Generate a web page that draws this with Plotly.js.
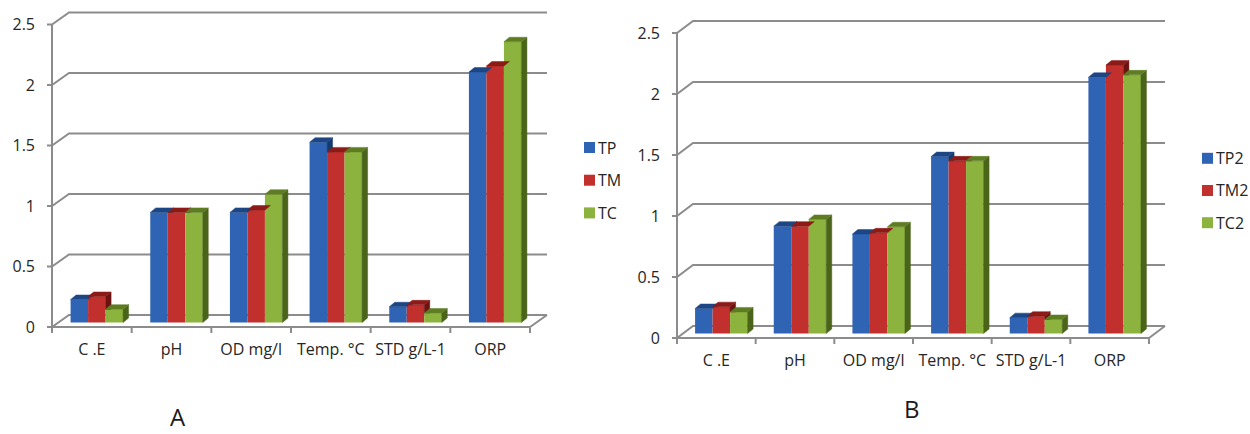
<!DOCTYPE html>
<html>
<head>
<meta charset="utf-8">
<script src="https://cdn.plot.ly/plotly-3.0.1.min.js"></script>
<style>
  html, body { margin: 0; padding: 0; background: #ffffff; }
  #chart { width: 1250px; height: 434px; }
</style>
</head>
<body>
<div id="chart"></div>
<script>
// ---- data ----
const categories = ['C .E', 'pH', 'OD mg/l', 'Temp. °C', 'STD g/L-1', 'ORP'];
const yTicks = [0, 0.5, 1, 1.5, 2, 2.5];

// panel A
const seriesNamesA = ['TP', 'TM', 'TC'];
const tpA = [0.19, 0.91, 0.91, 1.49, 0.13, 2.07];
const tmA = [0.215, 0.91, 0.93, 1.41, 0.146, 2.12];
const tcA = [0.11, 0.91, 1.06, 1.41, 0.078, 2.32];

// panel B
const seriesNamesB = ['TP2', 'TM2', 'TC2'];
const tpB = [0.205, 0.88, 0.815, 1.45, 0.13, 2.10];
const tmB = [0.22, 0.88, 0.825, 1.415, 0.142, 2.20];
const tcB = [0.177, 0.935, 0.875, 1.415, 0.115, 2.12];

const panelLabels = ['A', 'B'];

// ---- styling ----
const W = 1250, H = 434;
const FONT = 'Open Sans, DejaVu Sans, sans-serif';
const TEXT = '#262626';
const GRID = '#8c8c8c';
const palette = [
  { front: '#2f64b5', top: '#1d4685', side: '#173a6c' },
  { front: '#c1302c', top: '#8c1b18', side: '#6a1311' },
  { front: '#8cb33e', top: '#5e7d22', side: '#4a6419' }
];

// pseudo-3D geometry of each panel, in pixels
const geomA = { left: 52, catPx: 79.667, depthX: 17, zeroY: 327, unitPx: 121, depthY: 12 };
const geomB = { left: 677, catPx: 78.667, depthX: 16, zeroY: 338, unitPx: 122, depthY: 12 };
const bar = { width: 17.5, shiftX: 5, shiftY: 4.5, depthX: 5.5, depthY: 4.5 };
const pad = { l: 6, r: 2, t: 2, b: 7 };
const tickPx = { y: 5, x: 6 };

const panels = [
  { suffix: '', names: seriesNamesA, series: [tpA, tmA, tcA], geom: geomA,
    legend: { x: 584, y0: 147.5, dy: 32.7 }, label: { x: 178, bottom: 434 } },
  { suffix: '2', names: seriesNamesB, series: [tpB, tmB, tcB], geom: geomB,
    legend: { x: 1202, y0: 158.3, dy: 32.2 }, label: { x: 912, bottom: 426 } }
];

const traces = [];
const shapes = [];
const annotations = [];
const layout = {
  width: W, height: H,
  margin: { l: 0, r: 0, t: 0, b: 0, autoexpand: false },
  paper_bgcolor: '#ffffff', plot_bgcolor: 'rgba(0,0,0,0)',
  showlegend: false,
  barmode: 'overlay',
  hovermode: false,
  font: { family: FONT, color: TEXT, size: 16 }
};

const nCat = categories.length;
const yMax = yTicks[yTicks.length - 1];

panels.forEach((p, pi) => {
  const g = p.geom;
  const xa = 'x' + p.suffix, ya = 'y' + p.suffix;
  const xName = 'xaxis' + p.suffix, yName = 'yaxis' + p.suffix;

  // unit conversions
  const ux = 1 / g.catPx, uy = 1 / g.unitPx;
  const dX = g.depthX * ux, dY = g.depthY * uy;
  const x0 = -0.5, x1 = nCat - 0.5;

  const pxL = g.left - pad.l;
  const pxR = g.left + nCat * g.catPx + g.depthX + pad.r;
  const pxB = g.zeroY + pad.b;
  const pxT = g.zeroY - yMax * g.unitPx - g.depthY - pad.t;

  layout[xName] = {
    domain: [pxL / W, pxR / W],
    range: [x0 - pad.l * ux, x1 + dX + pad.r * ux],
    anchor: ya,
    showgrid: false, zeroline: false, showline: false,
    tickmode: 'array',
    tickvals: categories.map((_, i) => i),
    ticktext: categories,
    ticks: '', ticklabelstandoff: 4,
    tickfont: { family: FONT, size: 16, color: TEXT },
    fixedrange: true
  };
  layout[yName] = {
    domain: [1 - pxB / H, 1 - pxT / H],
    range: [-pad.b * uy, yMax + dY + pad.t * uy],
    anchor: xa,
    showgrid: false, zeroline: false, showline: false,
    tickmode: 'array',
    tickvals: yTicks,
    ticktext: yTicks.map(v => String(v)),
    ticks: '', ticklabelstandoff: 10,
    tickfont: { family: FONT, size: 16, color: TEXT },
    fixedrange: true
  };

  // walls: tick, side-wall diagonal and back-wall gridline for each value
  const lineStyle = { color: GRID, width: 2 };
  yTicks.forEach(v => {
    shapes.push({
      type: 'path', xref: xa, yref: ya, layer: 'below', line: lineStyle,
      path: `M ${x0 - tickPx.y * ux},${v} L ${x0},${v} L ${x0 + dX},${v + dY} L ${x1 + dX},${v + dY}`
    });
  });
  // front vertical edge
  shapes.push({
    type: 'path', xref: xa, yref: ya, layer: 'below', line: lineStyle,
    path: `M ${x0},0 L ${x0},${yMax}`
  });
  // floor front and right edges, with category boundary ticks
  let floor = `M ${x0},0 L ${x1},0 L ${x1 + dX},${dY}`;
  for (let k = 0; k <= nCat; k++) {
    floor += ` M ${k - 0.5},0 L ${k - 0.5},${-tickPx.x * uy}`;
  }
  shapes.push({ type: 'path', xref: xa, yref: ya, layer: 'below', line: lineStyle, path: floor });

  // bars
  const bw = bar.width * ux;
  const base = bar.shiftY * uy;
  const bdx = bar.depthX * ux, bdy = bar.depthY * uy;
  const offsets = p.series.map((_, i) => -1.5 * bw + i * bw + bar.shiftX * ux);

  p.series.forEach((vals, i) => {
    traces.push({
      type: 'bar', name: p.names[i], xaxis: xa, yaxis: ya,
      x: categories.map((_, k) => k), y: vals,
      base: base, width: bw, offset: offsets[i],
      marker: { color: palette[i].front, line: { width: 0 } },
      showlegend: false
    });
  });

  // side faces (only the part not hidden by the neighbouring bar)
  p.series.forEach((vals, i) => {
    const next = p.series[i + 1];
    const sx = [], sy = [];
    vals.forEach((v, k) => {
      const xr = k + offsets[i] + bw;
      const t = base + v;
      let pts;
      if (!next) {
        pts = [[xr, base], [xr + bdx, base + bdy], [xr + bdx, t + bdy], [xr, t]];
      } else {
        const tn = base + next[k];
        if (t >= tn) {
          pts = [[xr, tn], [xr + bdx, tn], [xr + bdx, t + bdy], [xr, t]];
        } else if (t + bdy > tn) {
          const xi = xr + bdx * (tn - t) / bdy;
          pts = [[xi, tn], [xr + bdx, tn], [xr + bdx, t + bdy]];
        } else {
          pts = null;
        }
      }
      if (pts) {
        pts.forEach(q => { sx.push(q[0]); sy.push(q[1]); });
        sx.push(pts[0][0]); sy.push(pts[0][1]);
        sx.push(null); sy.push(null);
      }
    });
    traces.push({
      type: 'scatter', mode: 'lines', xaxis: xa, yaxis: ya, x: sx, y: sy,
      fill: 'toself', fillcolor: palette[i].side,
      line: { color: palette[i].side, width: 0.5 },
      showlegend: false, hoverinfo: 'skip'
    });
  });

  // top faces
  p.series.forEach((vals, i) => {
    const tx = [], ty = [];
    vals.forEach((v, k) => {
      const xl = k + offsets[i], xr = xl + bw, t = base + v;
      const pts = [[xl, t], [xl + bdx, t + bdy], [xr + bdx, t + bdy], [xr, t], [xl, t]];
      pts.forEach(q => { tx.push(q[0]); ty.push(q[1]); });
      tx.push(null); ty.push(null);
    });
    traces.push({
      type: 'scatter', mode: 'lines', xaxis: xa, yaxis: ya, x: tx, y: ty,
      fill: 'toself', fillcolor: palette[i].top,
      line: { color: palette[i].top, width: 0.5 },
      showlegend: false, hoverinfo: 'skip'
    });
  });

  // legend: colour key square + series name
  const sq = 11;
  p.names.forEach((name, i) => {
    const cy = p.legend.y0 + i * p.legend.dy;
    shapes.push({
      type: 'rect', xref: 'paper', yref: 'paper', layer: 'above',
      x0: p.legend.x / W, x1: (p.legend.x + sq) / W,
      y0: 1 - (cy + sq / 2) / H, y1: 1 - (cy - sq / 2) / H,
      fillcolor: palette[i].front, line: { width: 0 }
    });
    annotations.push({
      xref: 'paper', yref: 'paper', x: (p.legend.x + sq + 1) / W, y: 1 - cy / H,
      xanchor: 'left', yanchor: 'middle', showarrow: false, text: name,
      font: { family: FONT, size: 16, color: TEXT }
    });
  });

  // panel letter
  annotations.push({
    xref: 'paper', yref: 'paper', x: p.label.x / W, y: 1 - p.label.bottom / H,
    xanchor: 'center', yanchor: 'bottom', showarrow: false, borderpad: 0,
    text: panelLabels[pi],
    font: { family: FONT, size: 24, color: '#1a1a1a' }
  });
});

layout.shapes = shapes;
layout.annotations = annotations;

Plotly.newPlot('chart', traces, layout, { staticPlot: true, displayModeBar: false });
</script>
</body>
</html>
